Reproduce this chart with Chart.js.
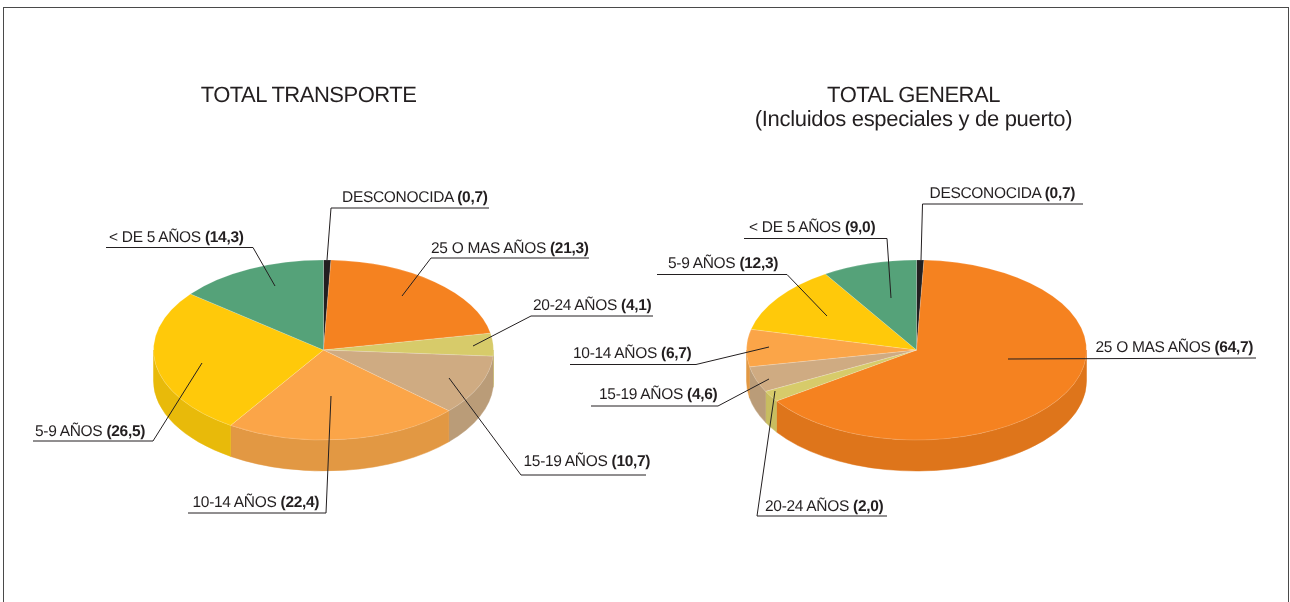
<!DOCTYPE html>
<html>
<head>
<meta charset="utf-8">
<title>Total transporte / Total general</title>
<script src="https://cdn.jsdelivr.net/npm/chart.js@4/dist/chart.umd.min.js"></script>
<style>
html, body { margin: 0; padding: 0; background: #fff; overflow: hidden; }
#page { position: relative; width: 1290px; height: 602px; overflow: hidden; }
#frame { position: absolute; left: 3px; top: 7px; width: 1284px; height: 640px; border: 1.5px solid #4a4a4a; }
canvas { position: absolute; left: 0; top: 0; }
</style>
</head>
<body>
<div id="page">
    <div id="frame"></div>
    <canvas id="transporte" width="1290" height="602"></canvas>
    <canvas id="general" width="1290" height="602"></canvas>
</div>
<script>
var categories = ['DESCONOCIDA', '25 O MAS AÑOS', '20-24 AÑOS', '15-19 AÑOS', '10-14 AÑOS', '5-9 AÑOS', '< DE 5 AÑOS'];
var transporteValues = [0.7, 21.3, 4.1, 10.7, 22.4, 26.5, 14.3];
var generalValues = [0.7, 64.7, 2.0, 4.6, 6.7, 12.3, 9.0];

var topColors = ['#231f20', '#f58220', '#d7cb6a', '#cfab82', '#fba548', '#ffc90a', '#55a279'];
var sideColors = ['#1c1819', '#de751b', '#c8bd60', '#ba9c78', '#e29843', '#e8ba0a', '#4c9069'];

// label x, baseline y, then the leader from the slice out to the end of the rule
var transporteLabels = [
    { x: 342, y: 202, line: [[327, 260], [331, 208], [489, 208]] },
    { x: 431, y: 253, line: [[402, 296], [431, 258], [589, 258]] },
    { x: 533, y: 310, line: [[473, 346], [531, 316], [653, 316]] },
    { x: 523.5, y: 466, line: [[449, 378], [521, 475], [646, 475]] },
    { x: 192.5, y: 507, line: [[331, 396], [326, 513], [188, 513]] },
    { x: 35, y: 436, line: [[202, 363], [153, 441], [33, 441]] },
    { x: 109, y: 242, line: [[275, 286], [253, 247.5], [106, 247.5]] }
];
var generalLabels = [
    { x: 929.5, y: 198, line: [[921, 260], [922.5, 204], [1083, 204]] },
    { x: 1095.5, y: 352, line: [[1008, 359], [1256, 358]] },
    { x: 765, y: 511, line: [[775, 391], [757, 516], [887, 516]] },
    { x: 599, y: 399, line: [[769, 379], [718, 406], [591, 406]] },
    { x: 573, y: 358, line: [[769, 347], [696, 364.5], [570, 364.5]] },
    { x: 668, y: 268, line: [[827, 316], [787, 274.5], [657, 274.5]] },
    { x: 749, y: 232, line: [[891, 298], [887, 238.5], [744, 238.5]] }
];

var FONT = '"Liberation Sans", Arial, sans-serif';
var SQUASH = 90 / 170;
var DEPTH = 31;
var INK = '#231f20';

var pie3d = {
    id: 'pie3d',
    beforeDatasetsDraw: function (chart) {
        var ctx = chart.ctx;
        var arcs = chart.getDatasetMeta(0).data;
        var first = arcs[0];

        // rim of the disc, only the front half can be seen
        arcs.forEach(function (arc, i) {
            var from = Math.max(arc.startAngle, 0);
            var to = Math.min(arc.endAngle, Math.PI);
            if (to <= from) return;
            var rx = arc.outerRadius;
            var ry = rx * SQUASH;
            ctx.beginPath();
            ctx.ellipse(arc.x, arc.y, rx, ry, 0, from, to);
            ctx.ellipse(arc.x, arc.y + DEPTH, rx, ry, 0, to, from, true);
            ctx.closePath();
            ctx.fillStyle = sideColors[i];
            ctx.fill();
            ctx.strokeStyle = sideColors[i];
            ctx.lineWidth = 0.5;
            ctx.stroke();
        });

        ctx.save();
        ctx.translate(first.x, first.y);
        ctx.scale(1, SQUASH);
        ctx.translate(-first.x, -first.y);
    },
    afterDatasetsDraw: function (chart, args, opts) {
        var ctx = chart.ctx;
        ctx.restore();

        ctx.save();
        ctx.textRendering = 'geometricPrecision';
        ctx.fillStyle = INK;
        ctx.textBaseline = 'alphabetic';

        var values = chart.data.datasets[0].data;
        opts.labels.forEach(function (label, i) {
            ctx.beginPath();
            label.line.forEach(function (p, n) {
                if (n === 0) ctx.moveTo(p[0], p[1]);
                else ctx.lineTo(p[0], p[1]);
            });
            ctx.strokeStyle = INK;
            ctx.lineWidth = 1;
            ctx.stroke();

            var name = chart.data.labels[i] + ' ';
            var value = '(' + values[i].toFixed(1).replace('.', ',') + ')';
            ctx.textAlign = 'left';
            ctx.letterSpacing = '-0.3px';
            ctx.font = '15.5px ' + FONT;
            ctx.fillText(name, label.x, label.y);
            var w = ctx.measureText(name).width;
            ctx.font = 'bold 15.5px ' + FONT;
            ctx.fillText(value, label.x + w, label.y);
        });

        ctx.font = '22px ' + FONT;
        ctx.textAlign = 'center';
        opts.title.forEach(function (line) {
            ctx.letterSpacing = line.spacing;
            ctx.fillText(line.text, opts.titleX, line.y);
        });
        ctx.restore();
    }
};

function makePie(id, values, labels, title, titleX, cx) {
    var cy = 350, r = 170.25;
    return new Chart(document.getElementById(id), {
        type: 'pie',
        data: {
            labels: categories,
            datasets: [{
                data: values,
                backgroundColor: topColors,
                borderColor: 'rgba(255,255,255,0.45)',
                borderWidth: 0.5
            }]
        },
        options: {
            responsive: false,
            animation: false,
            layout: {
                padding: { left: cx - r, right: 1290 - cx - r, top: cy - r, bottom: 602 - cy - r }
            },
            plugins: {
                legend: { display: false },
                tooltip: { enabled: false },
                pie3d: { labels: labels, title: title, titleX: titleX }
            }
        },
        plugins: [pie3d]
    });
}

makePie('transporte', transporteValues, transporteLabels,
    [{ text: 'TOTAL TRANSPORTE', y: 102, spacing: '-0.5px' }], 308.5, 323.5);
makePie('general', generalValues, generalLabels,
    [{ text: 'TOTAL GENERAL', y: 102, spacing: '-0.5px' },
     { text: '(Incluidos especiales y de puerto)', y: 125.5, spacing: '-0.3px' }], 913.5, 916.5);
</script>
</body>
</html>
